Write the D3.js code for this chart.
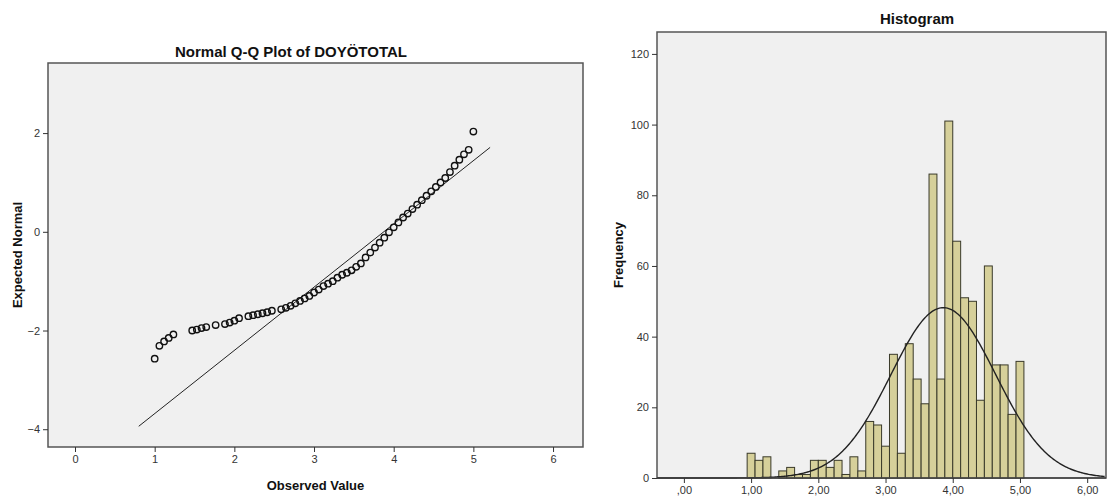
<!DOCTYPE html>
<html>
<head>
<meta charset="utf-8">
<script src="https://cdn.jsdelivr.net/npm/d3@7"></script>
<style>
  body { margin: 0; background: #fff; }
  svg { display: block; font-family: Arial, "Liberation Sans", sans-serif; }
  .tick text { fill: #333; font-size: 11px; }
  .tick line { stroke: #333; }
  .title { font-weight: bold; font-size: 15px; fill: #111; }
  .axis-label { font-weight: bold; font-size: 13px; fill: #111; }
</style>
</head>
<body>
<script>
// Q-Q plot: observed values and their expected normal scores
var qqObserved = [1.000, 1.059, 1.118, 1.176, 1.235, 1.471, 1.529, 1.588, 1.647, 1.765,
  1.882, 1.941, 2.000, 2.059, 2.176, 2.235, 2.294, 2.353, 2.412, 2.471,
  2.588, 2.647, 2.706, 2.765, 2.824, 2.882, 2.941, 3.000, 3.059, 3.118,
  3.176, 3.235, 3.294, 3.353, 3.412, 3.471, 3.529, 3.588, 3.647, 3.706,
  3.765, 3.824, 3.882, 3.941, 4.000, 4.059, 4.118, 4.176, 4.235, 4.294,
  4.353, 4.412, 4.471, 4.529, 4.588, 4.647, 4.706, 4.765, 4.824, 4.882,
  4.941, 5.000];
var qqExpected = [-2.57, -2.31, -2.22, -2.15, -2.08, -2.00, -1.98, -1.95, -1.93, -1.89,
  -1.87, -1.84, -1.80, -1.75, -1.71, -1.69, -1.67, -1.65, -1.63, -1.60,
  -1.57, -1.54, -1.50, -1.45, -1.40, -1.35, -1.30, -1.23, -1.17, -1.10,
  -1.05, -1.00, -0.93, -0.87, -0.83, -0.78, -0.71, -0.64, -0.52, -0.42,
  -0.32, -0.22, -0.12, -0.01, 0.09, 0.19, 0.29, 0.37, 0.46, 0.55,
  0.64, 0.73, 0.82, 0.91, 1.00, 1.09, 1.21, 1.34, 1.46, 1.57,
  1.66, 2.03];
// reference line end points
var refLineX = [0.80, 5.21];
var refLineY = [-3.94, 1.71];
var qqXTicks = [0, 1, 2, 3, 4, 5, 6];
var qqYTicks = [-4, -2, 0, 2];

// Histogram: 35 bins from 1.00 to 5.00 (bin centres), counts
var histMin = 1.0, histMax = 5.0;
var histCounts = [7, 5, 6, 0, 2, 3, 1, 1, 5, 5, 3, 5, 1, 6, 2, 16, 15, 9, 35, 7,
  38, 28, 21, 86, 28, 101, 67, 51, 50, 22, 60, 32, 32, 18, 33];
var histXTicks = [0, 1, 2, 3, 4, 5, 6];
var histYTicks = [0, 20, 40, 60, 80, 100, 120];
var curveMean = 3.86, curveSd = 0.78;

var svg = d3.select("body").append("svg")
  .attr("width", 1107).attr("height", 498);

// ---------- left: Normal Q-Q plot ----------
var qq = {left: 48, right: 583, top: 63, bottom: 447};
var xQ = d3.scaleLinear().domain([-0.339, 6.376]).range([qq.left, qq.right]);
var yQ = d3.scaleLinear().domain([-4.36, 3.42]).range([qq.bottom, qq.top]);

svg.append("rect")
  .attr("x", qq.left).attr("y", qq.top)
  .attr("width", qq.right - qq.left).attr("height", qq.bottom - qq.top)
  .attr("fill", "#f0f0f0").attr("stroke", "#555").attr("stroke-width", 1.5);

svg.append("g")
  .attr("transform", `translate(${qq.left},0)`)
  .call(d3.axisLeft(yQ).tickValues(qqYTicks).tickSize(5).tickSizeOuter(0).tickFormat(d3.format("d")))
  .call(g => g.select(".domain").remove());

svg.append("g")
  .attr("transform", `translate(0,${qq.bottom})`)
  .call(d3.axisBottom(xQ).tickValues(qqXTicks).tickSize(5).tickSizeOuter(0).tickFormat(d3.format("d")))
  .call(g => g.select(".domain").remove());

svg.append("line")
  .attr("x1", xQ(refLineX[0])).attr("y1", yQ(refLineY[0]))
  .attr("x2", xQ(refLineX[1])).attr("y2", yQ(refLineY[1]))
  .attr("stroke", "#222").attr("stroke-width", 1);

svg.append("g").selectAll("circle")
  .data(qqObserved)
  .enter()
  .append("circle")
  .attr("cx", (d, i) => xQ(d))
  .attr("cy", (d, i) => yQ(qqExpected[i]))
  .attr("r", 3.2)
  .attr("fill", "none")
  .attr("stroke", "#111")
  .attr("stroke-width", 1.4);

svg.append("text").attr("class", "title")
  .attr("x", 291).attr("y", 57).attr("text-anchor", "middle")
  .text("Normal Q-Q Plot of DOYÖTOTAL");

svg.append("text").attr("class", "axis-label")
  .attr("x", (qq.left + qq.right) / 2).attr("y", 490).attr("text-anchor", "middle")
  .text("Observed Value");

svg.append("text").attr("class", "axis-label")
  .attr("transform", `translate(22,${(qq.top + qq.bottom) / 2}) rotate(-90)`)
  .attr("text-anchor", "middle")
  .text("Expected Normal");

// ---------- right: histogram ----------
var hs = {left: 657, right: 1106, top: 32, bottom: 478};
var xH = d3.scaleLinear().domain([-0.40, 6.28]).range([hs.left, hs.right]);
var yH = d3.scaleLinear().domain([0, 126.2]).range([hs.bottom, hs.top]);
var binW = (histMax - histMin) / (histCounts.length - 1);

svg.append("rect")
  .attr("x", hs.left).attr("y", hs.top)
  .attr("width", hs.right - hs.left).attr("height", hs.bottom - hs.top)
  .attr("fill", "#f0f0f0").attr("stroke", "#555").attr("stroke-width", 1.5);

svg.append("g").selectAll("rect")
  .data(histCounts)
  .enter()
  .append("rect")
  .attr("x", (d, i) => xH(histMin + i * binW - binW / 2))
  .attr("y", d => yH(d))
  .attr("width", xH(binW) - xH(0))
  .attr("height", d => yH(0) - yH(d))
  .attr("fill", "#d6d09a")
  .attr("stroke", "#3a3a2a")
  .attr("stroke-width", 1)
  .attr("display", d => d > 0 ? null : "none");

// fitted normal curve (mean, sd, N * bin width)
var total = d3.sum(histCounts);
var curve = d3.range(xH.domain()[0], xH.domain()[1], 0.02).map(x =>
  [x, total * binW / (curveSd * Math.sqrt(2 * Math.PI)) * Math.exp(-0.5 * Math.pow((x - curveMean) / curveSd, 2))]);
svg.append("path")
  .datum(curve)
  .attr("d", d3.line().x(d => xH(d[0])).y(d => yH(d[1])))
  .attr("fill", "none")
  .attr("stroke", "#222")
  .attr("stroke-width", 1.4);

svg.append("line")
  .attr("x1", hs.left).attr("x2", hs.right).attr("y1", hs.bottom).attr("y2", hs.bottom)
  .attr("stroke", "#444").attr("stroke-width", 1.5);

svg.append("g")
  .attr("transform", `translate(${hs.left},0)`)
  .call(d3.axisLeft(yH).tickValues(histYTicks).tickSize(5).tickSizeOuter(0))
  .call(g => g.select(".domain").remove());

svg.append("g")
  .attr("transform", `translate(0,${hs.bottom})`)
  .call(d3.axisBottom(xH).tickValues(histXTicks).tickSize(5).tickSizeOuter(0)
    .tickFormat(d => d3.format(".2f")(d).replace(".", ",").replace(/^0/, "")))
  .call(g => g.select(".domain").remove());

svg.append("text").attr("class", "title")
  .attr("x", 917).attr("y", 24).attr("text-anchor", "middle")
  .text("Histogram");

svg.append("text").attr("class", "axis-label")
  .attr("transform", `translate(623,${(hs.top + hs.bottom) / 2}) rotate(-90)`)
  .attr("text-anchor", "middle")
  .text("Frequency");
</script>
</body>
</html>
